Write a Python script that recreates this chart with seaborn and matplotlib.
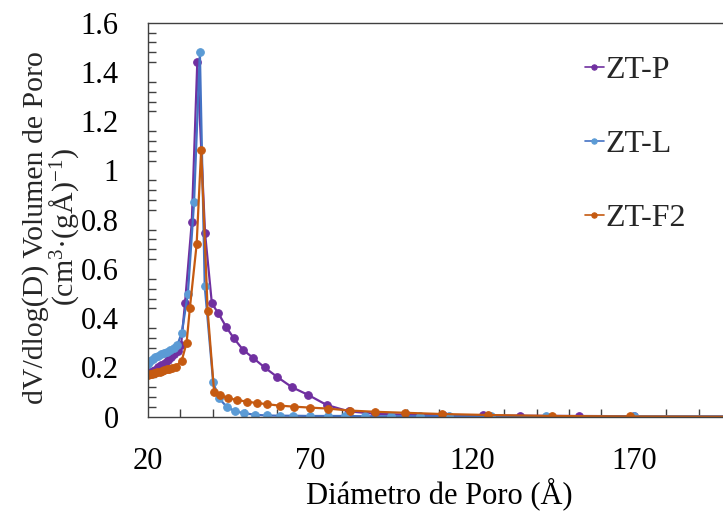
import numpy as np
import pandas as pd
import matplotlib
matplotlib.use("Agg")
import matplotlib.pyplot as plt
from matplotlib.ticker import MultipleLocator
import seaborn as sns

# Pore size distributions (BJH): diameter in Å, dV/dlog(D)
zt_p_x = [20.0, 20.8, 21.6, 22.4, 23.3, 24.2, 25.2, 26.2, 27.2, 28.2, 29.2, 30.3,
          31.5, 33.6, 35.3, 37.7, 39.8, 41.8, 44.2, 46.5, 49.4, 52.6, 56.1, 59.8,
          64.5, 69.6, 75.2, 82.0, 90.0, 100.0, 111.0, 123.6, 135.0, 153.0, 170.0]
zt_p_y = [0.175, 0.18, 0.185, 0.19, 0.20, 0.21, 0.22, 0.23, 0.243, 0.255, 0.268, 0.29,
          0.46, 0.79, 1.44, 0.745, 0.46, 0.42, 0.365, 0.32, 0.272, 0.238, 0.20, 0.163,
          0.12, 0.088, 0.048, 0.022, 0.012, 0.008, 0.006, 0.005, 0.004, 0.003, 0.002]

zt_l_x = [20.0, 20.7, 21.5, 22.3, 23.2, 24.1, 25.0, 26.0, 27.0, 28.0, 29.1, 30.5,
          32.4, 34.3, 36.1, 37.6, 40.2, 42.0, 44.4, 47.0, 49.8, 53.1, 56.7, 60.8,
          64.9, 70.1, 75.7, 81.0, 87.0, 95.0, 104.0, 113.0, 126.0, 143.0, 170.0, 200.0]
zt_l_y = [0.215, 0.225, 0.235, 0.243, 0.248, 0.253, 0.258, 0.264, 0.27, 0.278, 0.29, 0.34,
          0.50, 0.87, 1.48, 0.53, 0.14, 0.075, 0.04, 0.022, 0.014, 0.008, 0.005, 0.004,
          0.004, 0.003, 0.003, 0.003, 0.002, 0.002, 0.002, 0.002, 0.002, 0.002, 0.002, 0.002]

zt_f2_x = [20.0, 20.6, 21.2, 21.8, 22.4, 23.0, 23.7, 24.4, 25.1, 25.9, 26.7, 27.6,
           28.6, 30.5, 32.0, 33.0, 35.1, 36.5, 38.5, 40.5, 42.3, 44.9, 47.7, 50.6,
           53.6, 56.7, 60.8, 65.0, 70.1, 75.7, 82.4, 90.2, 99.4, 110.7, 125.1, 144.7,
           168.9, 200.0]
zt_f2_y = [0.168, 0.172, 0.175, 0.177, 0.179, 0.181, 0.183, 0.186, 0.189, 0.192, 0.195, 0.198,
           0.203, 0.228, 0.30, 0.44, 0.70, 1.085, 0.43, 0.10, 0.088, 0.075, 0.068, 0.061,
           0.056, 0.051, 0.045, 0.041, 0.037, 0.033, 0.025, 0.02, 0.016, 0.011, 0.007, 0.003,
           0.001, 0.0]

x_ticks = [20, 70, 120, 170]
y_ticks = [0, 0.2, 0.4, 0.6, 0.8, 1, 1.2, 1.4, 1.6]

sns.set_theme(style="white")
plt.rcParams["font.family"] = ["Liberation Serif", "DejaVu Serif"]
plt.rcParams["mathtext.fontset"] = "custom"
plt.rcParams["mathtext.rm"] = "Liberation Serif"
plt.rcParams["mathtext.it"] = "Liberation Serif:italic"

fig = plt.figure(figsize=(7.23, 5.11), dpi=100)
fig.patch.set_facecolor("white")
ax = fig.add_axes([0.2043, 0.1845, 0.8067, 0.771])

series = [
    ("ZT-P", zt_p_x, zt_p_y, "#7030A0", "#7030A0"),
    ("ZT-L", zt_l_x, zt_l_y, "#4472C4", "#5B9BD5"),
    ("ZT-F2", zt_f2_x, zt_f2_y, "#C55A11", "#C55A11"),
]
for name, xs, ys, line_c, mark_c in series:
    df = pd.DataFrame({"d": xs, "v": ys})
    sns.lineplot(data=df, x="d", y="v", ax=ax, color=line_c, linewidth=1.6,
                 marker="o", markersize=5.5, markerfacecolor=mark_c,
                 markeredgecolor=mark_c, label=name, sort=False)

ax.set_xlim(20, 200)
ax.set_ylim(0, 1.6)
ax.set_xticks(x_ticks)
ax.set_yticks(y_ticks)
ax.set_yticklabels([f"{t:g}" for t in y_ticks])
ax.xaxis.set_minor_locator(MultipleLocator(10))
ax.yaxis.set_minor_locator(MultipleLocator(0.04))
ax.tick_params(axis="both", which="major", direction="inout", length=14,
               width=1.0, color="#404040", labelsize=22, labelcolor="black")
ax.tick_params(axis="x", which="major", pad=15)
ax.tick_params(axis="y", which="major", pad=14)
ax.tick_params(axis="both", which="minor", direction="in", length=6,
               width=1.0, color="#404040", bottom=True, left=True)

for side in ["left", "bottom", "top"]:
    ax.spines[side].set_visible(True)
    ax.spines[side].set_color("#404040")
    ax.spines[side].set_linewidth(1.0)
ax.spines["right"].set_visible(False)

ax.set_xlabel("Diámetro de Poro (Å)", fontsize=22, labelpad=1, color="black")
ax.set_ylabel("")
fig.text(0.071, 0.555,
         "dV/dlog(D) Volumen de Poro\n(cm$^{3}$·(gÅ)$^{-1}$)",
         rotation=90, ha="center", va="center", multialignment="center",
         fontsize=21.5, linespacing=0.92)

leg = ax.legend(loc="upper left", bbox_to_anchor=(0.7, 0.99), frameon=False,
                fontsize=23, handlelength=0.6, handletextpad=0.05,
                labelspacing=1.4, markerscale=0.7)
for h in leg.get_lines():
    h.set_linewidth(1.2)

fig.savefig("out.png", dpi=100, facecolor="white")
